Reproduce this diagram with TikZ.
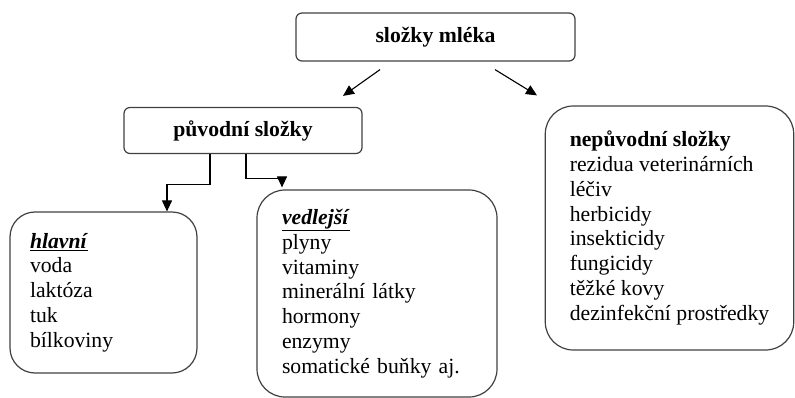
\documentclass[tikz,border=0pt]{standalone}
\usepackage{fontspec}
\setmainfont{Liberation Serif}
\usepackage{tikz}
\usetikzlibrary{positioning,arrows.meta}

\begin{document}
\begin{tikzpicture}[x=1pt, y=-1pt,
  every node/.style={font=\fontsize{21.7}{24.8}\selectfont},
  headbox/.style={draw=black!75, line width=1.2pt, rounded corners=6pt, inner sep=0pt},
  listbox/.style={draw=black!75, line width=1.2pt, rounded corners=28pt, align=left, inner ysep=0pt},
  arr/.style={line width=1.1pt, -{Triangle[length=11pt,width=10pt]}}]

\useasboundingbox (0,0) rectangle (795,398);

\node[headbox, minimum width=279pt, minimum height=48pt] (mleko) at (435.5,37) {\textbf{složky mléka}};
\node[headbox, minimum width=238pt, minimum height=46pt] (puvodni) at (243,130.5) {\textbf{původní složky}};

\node[listbox, rounded corners=25pt, text width=147pt, inner xsep=20pt, minimum height=161pt] (hlavni) at (103.5,292.5)
  {\underline{\textbf{\textit{hlavní}}}\\ voda\\ laktóza\\ tuk\\ bílkoviny};
\node[listbox, text width=190pt, inner xsep=25pt, minimum height=207pt] (vedlejsi) at (377,293.5)
  {\underline{\textbf{\textit{vedlejší}}}\\ plyny\\ vitaminy\\ minerální látky\\ hormony\\ enzymy\\ somatické buňky aj.};
\node[listbox, inner xsep=24.5pt, minimum height=244pt] (nepuvodni) at (669.5,228)
  {\textbf{nepůvodní složky}\\ rezidua veterinárních\\ léčiv\\ herbicidy\\ insekticidy\\ fungicidy\\ těžké kovy\\ dezinfekční prostředky};

% arrows
\draw[arr] ([xshift=-55.5pt, yshift=-8pt]mleko.south) -- ([xshift=100pt, yshift=11pt]puvodni.north);
\draw[arr] ([xshift=59.5pt, yshift=-8pt]mleko.south) -- ([xshift=-132.5pt, yshift=10pt]nepuvodni.north);
\draw[arr] ([xshift=-33pt]puvodni.south) -- ++(0,30) -| ([xshift=63.5pt]hlavni.north);
\draw[arr] ([xshift=3pt]puvodni.south) -- ++(0,24) -| ([xshift=-95pt, yshift=2pt]vedlejsi.north);

\end{tikzpicture}
\end{document}
